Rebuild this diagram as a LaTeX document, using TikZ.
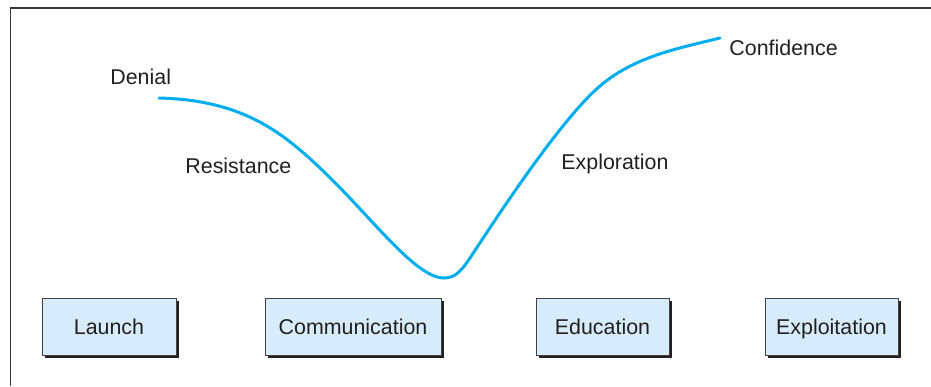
\documentclass[tikz,border=0pt]{standalone}
\usepackage{fontspec}
\setmainfont{Liberation Sans}
\usepackage{tikz}
\usetikzlibrary{shadows}
\definecolor{curveblue}{RGB}{0,174,239}
\definecolor{boxfill}  {RGB}{214,236,250}
\definecolor{inkgrey}  {RGB}{35,31,32}

\tikzset{
  phase/.style={font=\fontsize{10.7}{12}\selectfont, text=inkgrey, inner sep=0pt, anchor=base west},
  stagebox/.style={font=\fontsize{10.7}{12}\selectfont, text=inkgrey, inner sep=0pt,
    draw=inkgrey!85, line width=0.5pt, fill=boxfill,
    text height=7.7pt, text depth=0pt, minimum height=28.5pt,
    drop shadow={shadow xshift=1.5pt, shadow yshift=-1.5pt, fill=inkgrey, opacity=1}},
}

\begin{document}
\begin{tikzpicture}[x=0.5pt, y=-0.5pt]
\useasboundingbox (0,0) rectangle (931,386);
% frame
\draw[inkgrey!90, line width=0.7pt] (10.5,386) -- (10.5,8) -- (931,8);
% curve
\draw[curveblue, line width=1.5pt, line cap=round]
  (159,98) .. controls (240,100) and (280,130) .. (320,168)
  .. controls (370,215) and (415,278) .. (444,278)
  .. controls (456,278) and (462,270) .. (472,255)
  .. controls (495,220) and (560,120) .. (600,86)
  .. controls (635,56) and (680,48) .. (720,38);
% phases
\node[phase] (denial)      at (110,84)  {Denial};
\node[phase] (resistance)  at (185,173) {Resistance};
\node[phase] (exploration) at (561,169) {Exploration};
\node[phase] (confidence)  at (729,55)  {Confidence};
% stages
\node[stagebox, minimum width=67pt] (launch)        at (109,326.5) {Launch};
\node[stagebox, minimum width=88pt] (communication) at (353,326.5) {Communication};
\node[stagebox, minimum width=66.5pt] (education)   at (602.5,326.5) {Education};
\node[stagebox, minimum width=66.5pt] (exploitation) at (831.5,326.5) {Exploitation};
\end{tikzpicture}
\end{document}
